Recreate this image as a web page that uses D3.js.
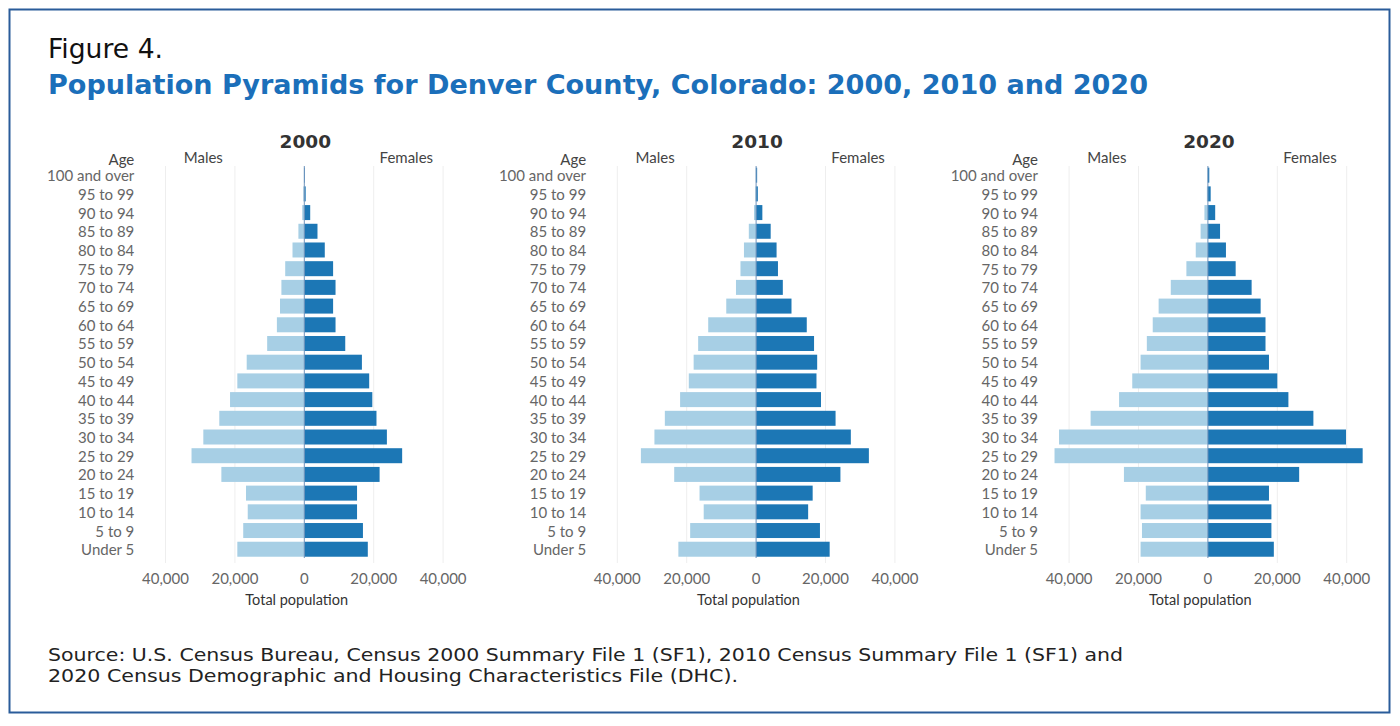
<!DOCTYPE html>
<html>
<head>
<meta charset="utf-8">
<script src="https://cdn.jsdelivr.net/npm/d3@7"></script>
<style>
  body { margin: 0; background: #fff; }
  svg { display: block; }
</style>
</head>
<body>
<div id="chart-area"></div>
<script>
// age groups, top to bottom
const ageGroups = ["100 and over", "95 to 99", "90 to 94", "85 to 89", "80 to 84", "75 to 79",
    "70 to 74", "65 to 69", "60 to 64", "55 to 59", "50 to 54", "45 to 49", "40 to 44",
    "35 to 39", "30 to 34", "25 to 29", "20 to 24", "15 to 19", "10 to 14", "5 to 9", "Under 5"];

const years = ["2000", "2010", "2020"];

// values, same order as ageGroups
const males2000 = [100, 300, 600, 1700, 3400, 5500, 6600, 7000, 7900, 10700, 16600, 19300,
    21400, 24500, 29100, 32500, 23900, 16800, 16300, 17600, 19300];
const females2000 = [200, 400, 1700, 3800, 5900, 8300, 9000, 8300, 9000, 11800, 16600, 18700,
    19600, 20800, 23800, 28200, 21700, 15200, 15200, 16900, 18300];

const males2010 = [100, 200, 600, 2100, 3500, 4500, 5800, 8600, 13800, 16700, 18000, 19400,
    21900, 26300, 29300, 33200, 23600, 16300, 15100, 19000, 22400];
const females2010 = [300, 500, 1800, 4200, 5900, 6300, 7700, 10200, 14600, 16700, 17600, 17400,
    18700, 22900, 27300, 32500, 24300, 16300, 15000, 18400, 21200];

const males2020 = [100, 300, 1000, 2100, 3500, 6200, 10700, 14200, 15900, 17600, 19400, 21800,
    25600, 33800, 42900, 44200, 24200, 17900, 19400, 19000, 19400];
const females2020 = [400, 800, 2100, 3500, 5200, 8000, 12600, 15200, 16600, 16600, 17600, 20000,
    23200, 30400, 39800, 44600, 26300, 17600, 18300, 18300, 19000];

const tickValues = [-40000, -20000, 0, 20000, 40000];

const maleSeries = [males2000, males2010, males2020];
const femaleSeries = [females2000, females2010, females2020];

const width = 1400, height = 726;
const font = "Lato, 'Noto Sans', sans-serif";
const headFont = "'DejaVu Sans', 'Open Sans', sans-serif";

const svg = d3.select("#chart-area")
    .append("svg")
    .attr("width", width)
    .attr("height", height);

// frame
svg.append("rect")
    .attr("x", 9.5).attr("y", 9.5)
    .attr("width", 1380).attr("height", 703)
    .attr("fill", "none")
    .attr("stroke", "#2a5c9a")
    .attr("stroke-width", 2);

// header and footer, spacing nudged to the reference width
function headText(x, yy, size, w, txt, color, bold) {
    svg.append("text")
        .attr("x", x).attr("y", yy)
        .attr("font-family", headFont)
        .attr("font-size", size)
        .attr("font-weight", bold ? "bold" : "normal")
        .attr("fill", color)
        .attr("textLength", w)
        .attr("lengthAdjust", "spacingAndGlyphs")
        .text(txt);
}

headText(48, 58, 27, 115, "Figure 4.", "#111", false);
headText(48, 94, 27, 1100, "Population Pyramids for Denver County, Colorado: 2000, 2010 and 2020", "#1b6fba", true);
headText(48, 661, 18, 1075, "Source: U.S. Census Bureau, Census 2000 Summary File 1 (SF1), 2010 Census Summary File 1 (SF1) and", "#222", false);
headText(48, 682, 18, 690, "2020 Census Demographic and Housing Characteristics File (DHC).", "#222", false);

const y = d3.scaleBand()
    .domain(ageGroups)
    .range([165.8, 558.6])
    .paddingInner(0.198)
    .paddingOuter(0.1);

const fmt = d3.format(",");

years.forEach(function (year, i) {
    const zero = 304.3 + i * 451.8;

    const x = d3.scaleLinear()
        .domain([-40000, 40000])
        .range([zero - 138.8, zero + 138.8]);

    const g = svg.append("g");

    // gridlines
    g.selectAll(".grid")
        .data(tickValues.filter(d => d !== 0))
        .enter()
        .append("line")
        .attr("x1", d => x(d)).attr("x2", d => x(d))
        .attr("y1", 166).attr("y2", 563)
        .attr("stroke", "#eeeeee")
        .attr("stroke-width", 1);

    const rows = ageGroups.map((a, j) => ({ age: a, m: maleSeries[i][j], f: femaleSeries[i][j] }));

    g.selectAll(".male")
        .data(rows)
        .enter()
        .append("rect")
        .attr("x", d => x(-d.m))
        .attr("y", d => y(d.age))
        .attr("width", d => x(0) - x(-d.m))
        .attr("height", y.bandwidth())
        .attr("fill", "#a7cfe5");

    g.selectAll(".female")
        .data(rows)
        .enter()
        .append("rect")
        .attr("x", x(0))
        .attr("y", d => y(d.age))
        .attr("width", d => x(d.f) - x(0))
        .attr("height", y.bandwidth())
        .attr("fill", "#1c77b5");

    // zero line
    g.append("line")
        .attr("x1", x(0)).attr("x2", x(0))
        .attr("y1", 166).attr("y2", 558)
        .attr("stroke", "#6f93bb")
        .attr("stroke-width", 1);

    // age labels
    g.selectAll(".age")
        .data(ageGroups)
        .enter()
        .append("text")
        .attr("x", zero - 170)
        .attr("y", d => y(d) + y.bandwidth() / 2 + 6)
        .attr("text-anchor", "end")
        .attr("font-family", font)
        .attr("font-size", 15)
        .attr("fill", "#666")
        .text(d => d);

    // tick labels
    g.selectAll(".tick")
        .data(tickValues)
        .enter()
        .append("text")
        .attr("x", d => x(d))
        .attr("y", 584)
        .attr("text-anchor", "middle")
        .attr("font-family", font)
        .attr("font-size", 15)
        .attr("fill", "#666")
        .text(d => fmt(Math.abs(d)));

    g.append("text")
        .attr("x", zero - 7.6).attr("y", 605)
        .attr("text-anchor", "middle")
        .attr("font-family", font)
        .attr("font-size", 14.5)
        .attr("fill", "#333")
        .text("Total population");

    g.append("text")
        .attr("x", zero + 1).attr("y", 148)
        .attr("text-anchor", "middle")
        .attr("font-family", "'DejaVu Sans', sans-serif")
        .attr("font-weight", "bold")
        .attr("font-size", 18.5)
        .attr("fill", "#333")
        .text(year);

    g.append("text")
        .attr("x", zero - 170).attr("y", 165)
        .attr("text-anchor", "end")
        .attr("font-family", font)
        .attr("font-size", 15)
        .attr("fill", "#444")
        .text("Age");

    g.append("text")
        .attr("x", zero - 101).attr("y", 163)
        .attr("text-anchor", "middle")
        .attr("font-family", font)
        .attr("font-size", 15)
        .attr("fill", "#444")
        .text("Males");

    g.append("text")
        .attr("x", zero + 102).attr("y", 163)
        .attr("text-anchor", "middle")
        .attr("font-family", font)
        .attr("font-size", 15)
        .attr("fill", "#444")
        .text("Females");
});
</script>
</body>
</html>
